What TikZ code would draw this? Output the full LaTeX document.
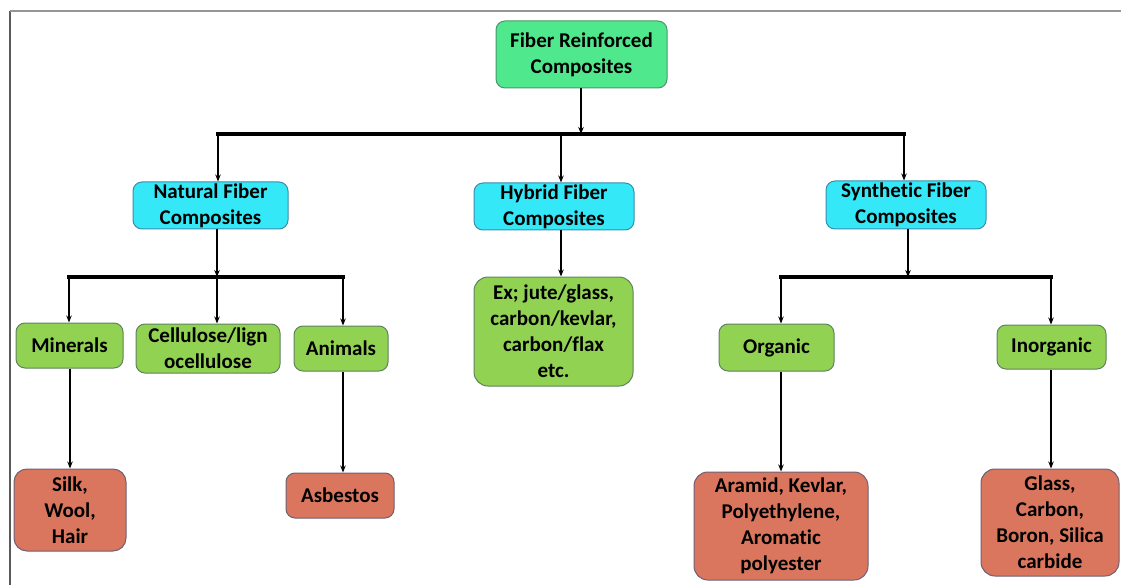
\documentclass[tikz,border=0pt]{standalone}
\usepackage{fontspec}
\setmainfont{Carlito}[Ligatures=NoCommon]
\usetikzlibrary{arrows.meta}
\definecolor{rootfill}{RGB}{80,232,140}
\definecolor{rootdraw}{RGB}{70,150,110}
\definecolor{cyanfill}{RGB}{52,232,248}
\definecolor{cyandraw}{RGB}{60,140,170}
\definecolor{greenfill}{RGB}{146,210,82}
\definecolor{greendraw}{RGB}{95,130,95}
\definecolor{redfill}{RGB}{218,118,94}
\definecolor{reddraw}{RGB}{110,95,115}
\definecolor{frameA}{RGB}{150,150,150}
\definecolor{frameB}{RGB}{90,90,90}
\begin{document}
\begin{tikzpicture}[x=1pt,y=-1pt,
  box/.style={rounded corners=9pt, line width=1pt, align=center, inner sep=0pt,
    font=\fontsize{21}{26}\selectfont\bfseries, text=black},
  rootbox/.style={box, fill=rootfill, draw=rootdraw},
  cyanbox/.style={box, fill=cyanfill, draw=cyandraw},
  greenbox/.style={box, fill=greenfill, draw=greendraw},
  redbox/.style={box, fill=redfill, draw=reddraw},
  arr/.style={-{Stealth[length=7pt,width=5.5pt]}, line width=1.5pt},
  bus/.style={line width=3.5pt, line cap=rect}]
\useasboundingbox (0,0) rectangle (1121,585);
% frame
\coordinate (fBL) at (10,585);
\coordinate (fTL) at (10,11);
\coordinate (fTR) at (1121,11);
\draw[frameB, line width=2pt] (fBL) -- (fTL);
\draw[frameA, line width=2pt] (fTL) -- (fTR);
% nodes
\node[rootbox, minimum width=171, minimum height=67] (root) at (581.5,54.5) {Fiber Reinforced\\Composites};
\node[cyanbox, minimum width=155, minimum height=47] (natural) at (210.5,205.5) {Natural Fiber\\Composites};
\node[cyanbox, minimum width=160, minimum height=47] (hybrid) at (554,206.5) {Hybrid Fiber\\Composites};
\node[cyanbox, minimum width=160, minimum height=48] (synth) at (906,205) {Synthetic Fiber\\Composites};
\node[greenbox, minimum width=107, minimum height=45] (minerals) at (69.5,345.5) {Minerals};
\node[greenbox, minimum width=144, minimum height=49] (cell) at (208,348.5) {Cellulose/lign\\ocellulose};
\node[greenbox, minimum width=94, minimum height=45] (animals) at (341,348.5) {Animals};
\node[greenbox, rounded corners=14pt, minimum width=159, minimum height=109] (hchild) at (553.5,331.5) {Ex; jute/glass,\\carbon/kevlar,\\carbon/flax\\etc.};
\node[greenbox, minimum width=115, minimum height=47] (organic) at (776.5,347.5) {Organic};
\node[greenbox, minimum width=109, minimum height=44] (inorganic) at (1051.5,347) {Inorganic};
\node[redbox, rounded corners=13pt, minimum width=112, minimum height=82] (silk) at (70,510) {Silk,\\Wool,\\Hair};
\node[redbox, minimum width=108, minimum height=45] (asb) at (340,495.5) {Asbestos};
\node[redbox, rounded corners=14pt, minimum width=174, minimum height=108] (aramid) at (781,526) {Aramid, Kevlar,\\Polyethylene,\\Aromatic\\polyester};
\node[redbox, rounded corners=14pt, minimum width=138, minimum height=107] (glass) at (1050,522.5) {Glass,\\Carbon,\\Boron, Silica\\carbide};
% first level bus
\coordinate (b1L) at (218,134);
\coordinate (b1C) at (581,134);
\coordinate (b1M) at (561,134);
\coordinate (b1R) at (904,134);
\draw[bus] (b1L) -- (b1R);
\draw[arr] (b1C |- root.south) -- (b1C);
\draw[arr] (b1L) -- (b1L |- natural.north);
\draw[arr] (b1M) -- (b1M |- hybrid.north);
\draw[arr] (b1R) -- (b1R |- synth.north);
% natural bus
\coordinate (b2L) at (69,277);
\coordinate (b2M) at (217,277);
\coordinate (b2R) at (343,277);
\coordinate (b2S) at (70,277);
\draw[bus] (b2L) -- (b2R);
\draw[arr] (b2M |- natural.south) -- (b2M);
\draw[arr] (b2L) -- (b2L |- minerals.north);
\draw[arr] (b2M) -- (b2M |- cell.north);
\draw[arr] (b2R) -- (b2R |- animals.north);
% hybrid
\draw[arr] (b1M |- hybrid.south) -- (b1M |- hchild.north);
% synthetic bus
\coordinate (b3L) at (781,277);
\coordinate (b3M) at (908,277);
\coordinate (b3R) at (1051,277);
\draw[bus] (b3L) -- (b3R);
\draw[arr] (b3M |- synth.south) -- (b3M);
\draw[arr] (b3L) -- (b3L |- organic.north);
\draw[arr] (b3R) -- (b3R |- inorganic.north);
% bottom level
\draw[arr] (b2S |- minerals.south) -- (b2S |- silk.north);
\draw[arr] (b2R |- animals.south) -- (b2R |- asb.north);
\draw[arr] (b3L |- organic.south) -- (b3L |- aramid.north);
\draw[arr] (b3R |- inorganic.south) -- (b3R |- glass.north);
\end{tikzpicture}
\end{document}
